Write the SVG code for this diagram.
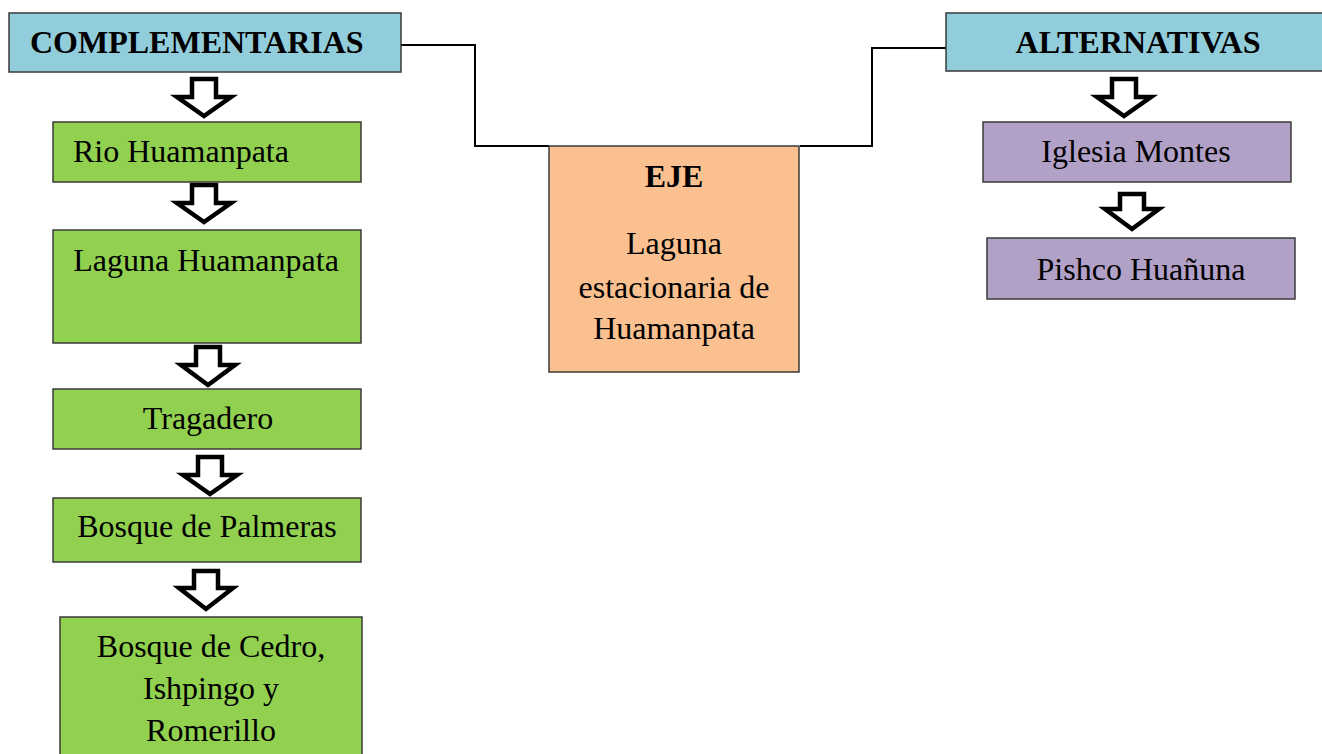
<svg xmlns="http://www.w3.org/2000/svg" width="1322" height="754" viewBox="0 0 1322 754">
<style>
.box{stroke:#3a3a3a;stroke-width:1.5}
.blue{fill:#92CDDC}.green{fill:#92D050}.orange{fill:#FAC090}.purple{fill:#B2A1C7}
.t{font-family:"Liberation Serif","Times New Roman",serif;font-size:32px;fill:#000}
.b{font-weight:bold}
.c{text-anchor:middle}
.arr{fill:#fff;stroke:#000;stroke-width:4.5;stroke-linejoin:miter}
.conn{fill:none;stroke:#000;stroke-width:2}
</style>
<rect width="1322" height="754" fill="#fff"/>
<g id="connectors">
<polyline class="conn" points="401,45 475,45 475,146 549,146"/>
<polyline class="conn" points="800,146 872,146 872,48 946,48"/>
<path class="arr" d="M192,79 L216,79 L216,97 L231,97 L204,116 L177,97 L192,97 Z"/>
<path class="arr" d="M192,185 L216,185 L216,203 L231,203 L204,222 L177,203 L192,203 Z"/>
<path class="arr" d="M196,347 L220,347 L220,365 L235,365 L208,385 L181,365 L196,365 Z"/>
<path class="arr" d="M198,457 L222,457 L222,475 L237,475 L210,494 L183,475 L198,475 Z"/>
<path class="arr" d="M194,571 L218,571 L218,588 L233,588 L206,609 L179,588 L194,588 Z"/>
<path class="arr" d="M1112,79 L1136,79 L1136,97 L1151,97 L1124,116 L1097,97 L1112,97 Z"/>
<path class="arr" d="M1120,194 L1144,194 L1144,209 L1159,209 L1132,229 L1105,209 L1120,209 Z"/>
</g>
<g id="complementarias">
<rect class="box blue" x="9" y="13" width="392" height="59"/>
<text class="t b" x="30" y="53">COMPLEMENTARIAS</text>
</g>
<g id="rio">
<rect class="box green" x="53" y="122" width="308" height="60"/>
<text class="t" x="73" y="162">Rio Huamanpata</text>
</g>
<g id="laguna">
<rect class="box green" x="53" y="230" width="308" height="113"/>
<text class="t c" x="206" y="271">Laguna Huamanpata</text>
</g>
<g id="tragadero">
<rect class="box green" x="53" y="389" width="308" height="60"/>
<text class="t c" x="208" y="429">Tragadero</text>
</g>
<g id="palmeras">
<rect class="box green" x="53" y="498" width="308" height="64"/>
<text class="t c" x="207" y="537">Bosque de Palmeras</text>
</g>
<g id="cedro">
<rect class="box green" x="60" y="617" width="302" height="145"/>
<text class="t c" x="211" y="657">Bosque de Cedro,</text>
<text class="t c" x="211" y="699">Ishpingo y</text>
<text class="t c" x="211" y="741">Romerillo</text>
</g>
<g id="eje">
<rect class="box orange" x="549" y="146" width="250" height="226"/>
<text class="t b c" x="674" y="187">EJE</text>
<text class="t c" x="674" y="254">Laguna</text>
<text class="t c" x="674" y="298">estacionaria de</text>
<text class="t c" x="674" y="339">Huamanpata</text>
</g>
<g id="alternativas">
<rect class="box blue" x="946" y="13" width="380" height="58"/>
<text class="t b c" x="1138" y="53">ALTERNATIVAS</text>
</g>
<g id="iglesia">
<rect class="box purple" x="983" y="122" width="308" height="60"/>
<text class="t c" x="1136" y="162">Iglesia Montes</text>
</g>
<g id="pishco">
<rect class="box purple" x="987" y="238" width="308" height="61"/>
<text class="t c" x="1141" y="280">Pishco Huañuna</text>
</g>
</svg>
